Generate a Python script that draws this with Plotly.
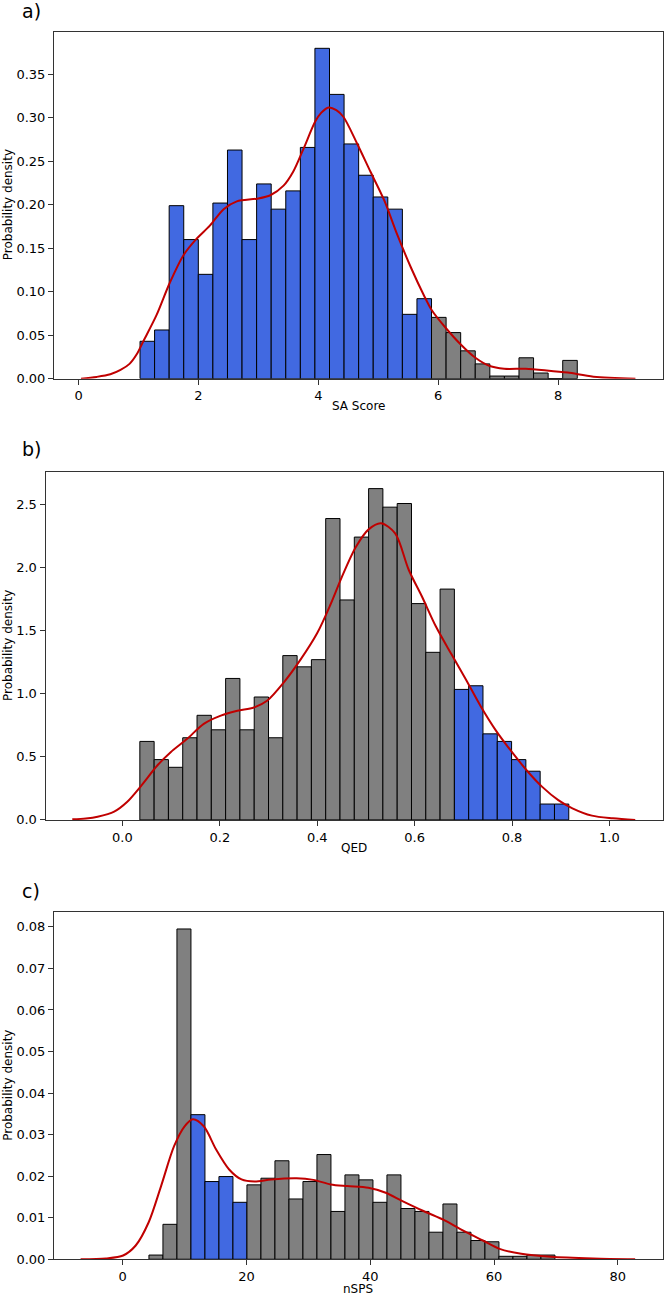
import numpy as np
import plotly.graph_objects as go

# ---------------- data ----------------
# Panel a: SA Score (30 bins)
sa_lo, sa_hi, sa_nbins = 1.025, 8.32, 30
sa_density = [0.043, 0.056, 0.199, 0.160, 0.120, 0.202, 0.263, 0.160, 0.224, 0.195,
              0.216, 0.266, 0.380, 0.327, 0.270, 0.234, 0.209, 0.195, 0.074, 0.092,
              0.0705, 0.053, 0.032, 0.017, 0.003, 0.003, 0.024, 0.0065, 0.0, 0.021]
sa_highlight = (1.0, 5.9)
sa_kde_x = [0.04, 0.30, 0.53, 0.70, 0.85, 0.97, 1.08, 1.30, 1.52, 1.75, 1.97, 2.19, 2.42,
            2.64, 2.97, 3.20, 3.42, 3.58, 3.75, 3.95, 4.05, 4.17, 4.30, 4.42, 4.65, 4.87,
            5.10, 5.32, 5.55, 5.76, 5.89, 6.13, 6.38, 6.62, 6.86, 7.10, 7.46, 7.81, 8.16,
            8.59, 9.29]
sa_kde_y = [0.0, 0.002, 0.005, 0.010, 0.017, 0.028, 0.043, 0.073, 0.110, 0.142, 0.161,
            0.176, 0.195, 0.204, 0.207, 0.211, 0.222, 0.238, 0.264, 0.296, 0.306, 0.312,
            0.309, 0.301, 0.270, 0.238, 0.205, 0.165, 0.127, 0.096, 0.079, 0.058, 0.039,
            0.024, 0.0145, 0.0114, 0.0114, 0.0095, 0.007, 0.0023, 0.0]

# Panel b: QED (30 bins)
qed_lo, qed_hi, qed_nbins = 0.0357, 0.9165, 30
qed_density = [0.622, 0.478, 0.417, 0.651, 0.829, 0.714, 1.121, 0.714, 0.974, 0.651,
               1.302, 1.213, 1.270, 2.388, 1.743, 2.241, 2.625, 2.478, 2.507, 1.714,
               1.328, 1.829, 1.034, 1.063, 0.682, 0.622, 0.478, 0.386, 0.126, 0.126]
qed_highlight = (0.68, 1.0)
qed_kde_x = [-0.103, -0.075, -0.051, -0.017, 0.010, 0.038, 0.072, 0.099, 0.133, 0.167,
             0.202, 0.236, 0.270, 0.297, 0.331, 0.366, 0.400, 0.427, 0.450, 0.479, 0.505,
             0.531, 0.560, 0.588, 0.615, 0.644, 0.676, 0.705, 0.735, 0.767, 0.800, 0.833,
             0.862, 0.895, 0.924, 0.964, 1.007, 1.053]
qed_kde_y = [0.005, 0.012, 0.026, 0.066, 0.144, 0.268, 0.433, 0.537, 0.643, 0.761, 0.826,
             0.865, 0.891, 0.944, 1.088, 1.272, 1.481, 1.705, 1.920, 2.160, 2.300, 2.350,
             2.270, 1.980, 1.770, 1.530, 1.310, 1.115, 0.905, 0.708, 0.537, 0.380, 0.262,
             0.157, 0.092, 0.034, 0.013, 0.0]

# Panel c: nSPS (29 bins)
nsps_lo, nsps_hi, nsps_nbins = 4.24, 69.84, 29
nsps_density = [0.0010, 0.0084, 0.0795, 0.0348, 0.0187, 0.0199, 0.0137, 0.0179, 0.0195,
                0.0237, 0.0145, 0.0187, 0.0252, 0.0115, 0.0203, 0.0191, 0.0137, 0.0203,
                0.0122, 0.0115, 0.0065, 0.0133, 0.0065, 0.0045, 0.0042, 0.0007, 0.0007,
                0.0010, 0.0010]
nsps_highlight = (11.0, 20.1)
nsps_kde_x = [-6.8, -2.7, 0.07, 2.1, 4.2, 6.2, 8.3, 10.0, 11.35, 13.1, 15.1, 17.2, 19.2,
              21.3, 24.0, 28.1, 30.8, 33.6, 36.3, 39.7, 42.5, 45.2, 48.6, 52.1, 55.5,
              58.2, 60.9, 64.4, 69.2, 76.0, 82.8]
nsps_kde_y = [0.0, 0.0002, 0.0009, 0.0033, 0.0089, 0.0176, 0.0272, 0.0320, 0.0337, 0.0320,
              0.0264, 0.0216, 0.0192, 0.0187, 0.0192, 0.0195, 0.0191, 0.0180, 0.0176,
              0.0172, 0.0160, 0.0140, 0.0116, 0.0093, 0.0065, 0.0045, 0.0025, 0.0013,
              0.0006, 0.0002, 0.0]

panel_labels = ["a)", "b)", "c)"]
x_titles = ["SA Score", "QED", "nSPS"]
y_title = "Probability density"

# ---------------- style ----------------
W, H = 664, 1302
BLUE = "#4169E1"
GRAY = "#808080"
RED = "#C00000"
FRAME = "#333333"
FONT = "DejaVu Sans, Liberation Sans, Arial, sans-serif"


def px_x(p):
    return p / W


def px_y(p):
    return 1 - p / H


panels = [
    dict(lo=sa_lo, hi=sa_hi, n=sa_nbins, dens=sa_density, hl=sa_highlight,
         kx=sa_kde_x, ky=sa_kde_y, xr=[-0.41, 9.75], yr=[0, 0.399],
         xt=[0, 2, 4, 6, 8], xfmt="", yt=[0, 0.05, 0.10, 0.15, 0.20, 0.25, 0.30, 0.35],
         yfmt=".2f", left=54, top=32, bottom=381, xtitle_y=409, label_y=11, label_x=31),
    dict(lo=qed_lo, hi=qed_hi, n=qed_nbins, dens=qed_density, hl=qed_highlight,
         kx=qed_kde_x, ky=qed_kde_y, xr=[-0.158, 1.110], yr=[0, 2.756],
         xt=[0, 0.2, 0.4, 0.6, 0.8, 1.0], xfmt=".1f", yt=[0, 0.5, 1.0, 1.5, 2.0, 2.5],
         yfmt=".1f", left=45.5, top=475, bottom=825, xtitle_y=853, label_y=452, label_x=31),
    dict(lo=nsps_lo, hi=nsps_hi, n=nsps_nbins, dens=nsps_density, hl=nsps_highlight,
         kx=nsps_kde_x, ky=nsps_kde_y, xr=[-11.1, 87.3], yr=[0, 0.0835],
         xt=[0, 20, 40, 60, 80], xfmt="", yt=[0, 0.01, 0.02, 0.03, 0.04, 0.05, 0.06, 0.07, 0.08],
         yfmt=".2f", left=54, top=918, bottom=1267, xtitle_y=1297, label_y=897, label_x=31),
]

fig = go.Figure()
annotations = []

for i, p in enumerate(panels):
    k = "" if i == 0 else str(i + 1)
    xa, ya = "x" + k, "y" + k
    edges = np.linspace(p["lo"], p["hi"], p["n"] + 1)
    centers = (edges[:-1] + edges[1:]) / 2
    widths = np.diff(edges)
    colors = [BLUE if p["hl"][0] <= c <= p["hl"][1] else GRAY for c in centers]
    fig.add_trace(go.Bar(
        x=centers, y=p["dens"], width=widths, marker=dict(color=colors, line=dict(color="black", width=1)),
        xaxis=xa, yaxis=ya, showlegend=False, hoverinfo="skip"))
    fig.add_trace(go.Scatter(
        x=p["kx"], y=p["ky"], mode="lines", line=dict(color=RED, width=2, shape="spline", smoothing=0.85),
        xaxis=xa, yaxis=ya, showlegend=False, hoverinfo="skip"))

    axis_common = dict(showline=True, linecolor=FRAME, linewidth=1, mirror=True, showgrid=False,
                       zeroline=False, ticks="outside", ticklen=5, tickwidth=1, tickcolor=FRAME,
                       tickfont=dict(family=FONT, size=13, color="black"))
    fig.update_layout(**{
        "xaxis" + k: dict(domain=[px_x(p["left"]), px_x(663)], range=p["xr"], anchor=ya,
                          tickvals=p["xt"], tickformat=p["xfmt"], **axis_common),
        "yaxis" + k: dict(domain=[px_y(p["bottom"]), px_y(p["top"])], range=p["yr"], anchor=xa,
                          tickvals=p["yt"], tickformat=p["yfmt"], **axis_common),
    })

    annotations.append(dict(text=x_titles[i], x=(px_x(p["left"]) + px_x(663)) / 2, y=px_y(p["xtitle_y"]),
                            xref="paper", yref="paper", showarrow=False, xanchor="center", yanchor="middle",
                            font=dict(family=FONT, size=12, color="black")))
    annotations.append(dict(text=y_title, x=px_x(8), y=px_y((p["top"] + p["bottom"]) / 2),
                            xref="paper", yref="paper", showarrow=False, textangle=-90,
                            xanchor="center", yanchor="middle",
                            font=dict(family=FONT, size=12, color="black")))
    annotations.append(dict(text=panel_labels[i], x=px_x(p["label_x"]), y=px_y(p["label_y"]),
                            xref="paper", yref="paper", showarrow=False, xanchor="center", yanchor="middle",
                            font=dict(family=FONT, size=19, color="black")))

fig.update_layout(width=W, height=H, margin=dict(l=0, r=0, t=0, b=0),
                  paper_bgcolor="white", plot_bgcolor="white", barmode="overlay",
                  annotations=annotations, font=dict(family=FONT))

fig.write_html("out.html", config={"displayModeBar": False})
